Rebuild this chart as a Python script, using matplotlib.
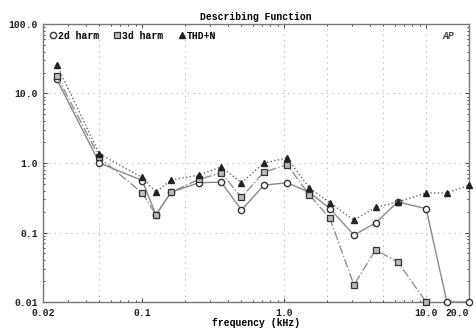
import matplotlib.pyplot as plt
from matplotlib.ticker import FixedLocator, LogLocator, NullFormatter

# frequency points (kHz) and measured levels (%)
freq = [0.025, 0.05, 0.1, 0.125, 0.16, 0.25, 0.36, 0.5, 0.72, 1.05,
        1.5, 2.1, 3.1, 4.4, 6.3, 10.0, 14.0, 20.0]
harm2 = [16.0, 1.0, 0.56, 0.18, 0.38, 0.52, 0.53, 0.21, 0.48, 0.52,
         0.38, 0.22, 0.092, 0.137, 0.275, 0.22, 0.01, 0.01]
harm3 = [18.0, 1.2, 0.37, 0.18, 0.38, 0.58, 0.72, 0.32, 0.74, 0.94,
         0.35, 0.16, 0.0176, 0.056, 0.038, 0.01]
thdn = [26.0, 1.35, 0.62, 0.38, 0.57, 0.67, 0.88, 0.52, 1.0, 1.18,
        0.44, 0.27, 0.15, 0.23, 0.275, 0.37, 0.37, 0.48]

xticks = [0.02, 0.1, 1.0, 10.0, 20.0]
xticklabels = ["0.02", "0.1", "1.0", "10.0", "20.0"]
yticks = [0.01, 0.1, 1.0, 10.0, 100.0]
yticklabels = ["0.01", "0.1", "1.0", "10.0", "100.0"]

plt.rcParams['font.family'] = ['Liberation Mono', 'DejaVu Sans Mono']
plt.rcParams['font.weight'] = 'bold'

fig = plt.figure(figsize=(4.77, 3.31), dpi=100)
ax = fig.add_axes([0.0901, 0.0876, 0.8929, 0.8399])

ax.plot(freq, harm2, color='#8a8a8a', lw=1.0, ls='-', marker='o', ms=4.5,
        mfc='white', mec='#333333', mew=1.0, clip_on=False, zorder=3)
ax.plot(freq[:len(harm3)], harm3, color='#909090', lw=1.0, ls='-.', marker='s', ms=4,
        mfc='#bbbbbb', mec='#333333', mew=0.9, clip_on=False, zorder=3)
ax.plot(freq, thdn, color='#666666', lw=1.0, ls=':', marker='^', ms=4.5,
        mfc='#222222', mec='#222222', clip_on=False, zorder=4)

ax.set_xscale('log')
ax.set_yscale('log')
ax.set_xlim(0.02, 20.0)
ax.set_ylim(0.01, 100.0)

ax.xaxis.set_major_locator(FixedLocator(xticks))
ax.set_xticklabels(xticklabels)
ax.get_xticklabels()[-1].set_horizontalalignment('right')
ax.xaxis.set_minor_locator(LogLocator(subs=range(2, 10)))
ax.xaxis.set_minor_formatter(NullFormatter())
ax.yaxis.set_major_locator(FixedLocator(yticks))
ax.set_yticklabels(yticklabels)
ax.yaxis.set_minor_locator(LogLocator(subs=range(2, 10)))
ax.yaxis.set_minor_formatter(NullFormatter())

ax.tick_params(which='both', direction='in', top=True, right=True,
               labelsize=7, colors='#222222', length=3, width=0.6)
ax.tick_params(which='minor', length=1.5)
ax.tick_params(axis='x', pad=4)

# dotted grid at decades and a few intermediate frequencies
for yv in [0.1, 1.0, 10.0]:
    ax.axhline(yv, color='#b4b4b4', ls=(0, (1, 4)), lw=0.8, zorder=1)
for xv in [0.05, 0.2, 1.0, 2.0, 5.0, 10.0]:
    ax.axvline(xv, color='#b4b4b4', ls=(0, (1, 4)), lw=0.8, zorder=1)

for s in ax.spines.values():
    s.set_color('#777777')
    s.set_linewidth(1.0)

ax.set_title("Describing Function", fontsize=7, fontweight='bold', pad=3)
ax.set_xlabel("frequency (kHz)", fontsize=7, fontweight='bold', labelpad=0)

leg = ax.legend(["2d harm", "3d harm", "THD+N"], loc='upper left', ncol=3,
                frameon=False, fontsize=7, handlelength=0.6, handletextpad=0.2,
                columnspacing=1.6, borderaxespad=0.3, bbox_to_anchor=(0.0, 1.0))
for h in leg.legend_handles:
    h.set_linestyle('none')

ax.text(0.965, 0.975, "AP", transform=ax.transAxes, ha='right', va='top',
        fontsize=7, style='italic', fontweight='bold', color='#444444')

fig.savefig("out.png", dpi=100, facecolor='white')
